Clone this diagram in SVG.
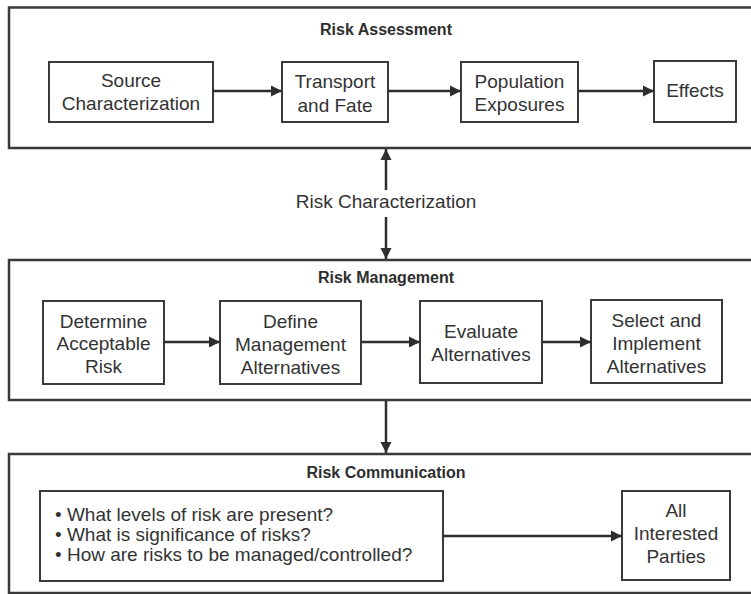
<svg xmlns="http://www.w3.org/2000/svg" width="751" height="594" viewBox="0 0 751 594">
<style>
.frame{fill:#fff;stroke:#3a3a3a;stroke-width:2.5}
.box{fill:#fff;stroke:#3a3a3a;stroke-width:2}
.title{font-family:"Liberation Sans",Arial,sans-serif;font-size:16px;font-weight:bold;fill:#2e2e2e;text-anchor:middle}
.t{font-family:"Liberation Sans",Arial,sans-serif;font-size:19px;fill:#333;text-anchor:middle}
.tl{font-family:"Liberation Sans",Arial,sans-serif;font-size:19px;fill:#333}
.c{stroke:#2e2e2e;stroke-width:2.5;fill:none}
</style>
<defs>
<marker id="ah" markerUnits="userSpaceOnUse" markerWidth="12" markerHeight="12" refX="11" refY="6" orient="auto">
<path d="M0,0.5 L11,6 L0,11.5 Z" fill="#2e2e2e"/>
</marker>
</defs>
<rect width="751" height="594" fill="#fff"/>
<g id="risk-assessment">
<rect class="frame" x="9" y="7.5" width="750" height="140.5"/>
<text class="title" x="386" y="35">Risk Assessment</text>
</g>
<g id="source-characterization">
<rect class="box" x="49" y="62" width="164" height="60"/>
<text class="t" x="131" y="87">Source</text>
<text class="t" x="131" y="110">Characterization</text>
</g>
<g id="transport-fate">
<rect class="box" x="282" y="62" width="106" height="60"/>
<text class="t" x="335" y="88">Transport</text>
<text class="t" x="335" y="112">and Fate</text>
</g>
<g id="population-exposures">
<rect class="box" x="461" y="62" width="117" height="60"/>
<text class="t" x="519.5" y="88">Population</text>
<text class="t" x="519.5" y="111">Exposures</text>
</g>
<g id="effects">
<rect class="box" x="654" y="61" width="82" height="61"/>
<text class="t" x="695" y="97">Effects</text>
</g>
<g id="risk-characterization">
<text class="t" x="386" y="208">Risk Characterization</text>
</g>
<g id="risk-management">
<rect class="frame" x="9" y="260" width="750" height="140"/>
<text class="title" x="386" y="283">Risk Management</text>
</g>
<g id="determine-acceptable-risk">
<rect class="box" x="43" y="301" width="121" height="83"/>
<text class="t" x="103.5" y="328">Determine</text>
<text class="t" x="103.5" y="350">Acceptable</text>
<text class="t" x="103.5" y="373">Risk</text>
</g>
<g id="define-management-alternatives">
<rect class="box" x="220" y="301" width="141" height="83"/>
<text class="t" x="290.5" y="328">Define</text>
<text class="t" x="290.5" y="351">Management</text>
<text class="t" x="290.5" y="374">Alternatives</text>
</g>
<g id="evaluate-alternatives">
<rect class="box" x="420" y="301" width="122" height="82"/>
<text class="t" x="481" y="338">Evaluate</text>
<text class="t" x="481" y="361">Alternatives</text>
</g>
<g id="select-implement-alternatives">
<rect class="box" x="591" y="300" width="131" height="83"/>
<text class="t" x="656.5" y="327">Select and</text>
<text class="t" x="656.5" y="350">Implement</text>
<text class="t" x="656.5" y="373">Alternatives</text>
</g>
<g id="risk-communication">
<rect class="frame" x="9" y="454" width="750" height="139"/>
<text class="title" x="386" y="478">Risk Communication</text>
</g>
<g id="questions">
<rect class="box" x="40" y="491" width="403" height="90"/>
<text class="tl" x="55" y="521">• What levels of risk are present?</text>
<text class="tl" x="55" y="541">• What is significance of risks?</text>
<text class="tl" x="55" y="561">• How are risks to be managed/controlled?</text>
</g>
<g id="all-interested-parties">
<rect class="box" x="622" y="491" width="108" height="89"/>
<text class="t" x="676" y="517">All</text>
<text class="t" x="676" y="540">Interested</text>
<text class="t" x="676" y="563">Parties</text>
</g>
<g id="connectors">
<line class="c" x1="213" y1="91" x2="282" y2="91" marker-end="url(#ah)"/>
<line class="c" x1="388" y1="91" x2="461" y2="91" marker-end="url(#ah)"/>
<line class="c" x1="578" y1="91" x2="654" y2="91" marker-end="url(#ah)"/>
<line class="c" x1="386" y1="190" x2="386" y2="149" marker-end="url(#ah)"/>
<line class="c" x1="386" y1="217" x2="386" y2="259" marker-end="url(#ah)"/>
<line class="c" x1="164" y1="342" x2="220" y2="342" marker-end="url(#ah)"/>
<line class="c" x1="361" y1="342" x2="420" y2="342" marker-end="url(#ah)"/>
<line class="c" x1="542" y1="342" x2="591" y2="342" marker-end="url(#ah)"/>
<line class="c" x1="386" y1="401" x2="386" y2="453" marker-end="url(#ah)"/>
<line class="c" x1="443" y1="536" x2="622" y2="536" marker-end="url(#ah)"/>
</g>
</svg>
